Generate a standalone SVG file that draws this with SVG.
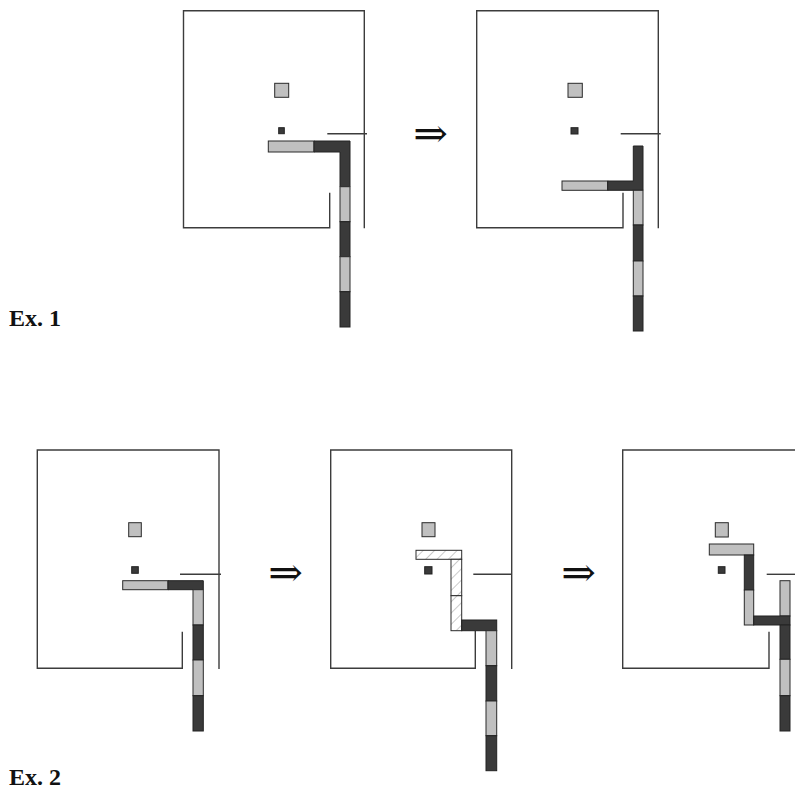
<svg xmlns="http://www.w3.org/2000/svg" width="795" height="792" viewBox="0 0 795 792">
<defs>
<style>
.frame{fill:none;stroke:#3c3c3c;stroke-width:1.4}
.g{fill:#c0c0c0;stroke:#2a2a2a;stroke-width:1}
.d{fill:#3a3a3a;stroke:#222;stroke-width:1}
.h{fill:url(#hatch);stroke:#2a2a2a;stroke-width:1}
.arr{font-family:"DejaVu Serif","DejaVu Sans",serif;font-size:36px;fill:#111}
.lbl{font-family:"Liberation Serif",serif;font-weight:bold;font-size:24px;fill:#111}
</style>
<pattern id="hatch" patternUnits="userSpaceOnUse" width="8" height="8" patternTransform="rotate(45)">
<rect width="8" height="8" fill="#fff"/>
<line x1="0" y1="0" x2="0" y2="8" stroke="#bdbdbd" stroke-width="1.6"/>
</pattern>
</defs>
<rect width="795" height="792" fill="#fff"/>

<g id="ex1-a">
<path class="frame" d="M329.7,192.7 V227.7 H183.5 V10.7 H364.3 V228.3"/>
<line class="frame" x1="327.3" y1="133.7" x2="367" y2="133.7"/>
<rect class="g" x="274.7" y="83.3" width="14" height="14"/>
<rect class="d" x="278.7" y="127.7" width="5.6" height="6"/>
<rect class="g" x="268.3" y="141" width="45.7" height="11"/>
<path class="d" d="M314,141 H350 V186.7 H340 V152 H314 Z"/>
<rect class="g" x="340" y="186.7" width="10" height="35"/>
<rect class="d" x="340" y="221.7" width="10" height="35"/>
<rect class="g" x="340" y="256.7" width="10" height="35"/>
<rect class="d" x="340" y="291.7" width="10" height="35.3"/>
</g>

<g id="ex1-b">
<path class="frame" d="M623,192.7 V227.7 H476.7 V10.7 H658.3 V228.3"/>
<line class="frame" x1="620.7" y1="133.7" x2="660.7" y2="133.7"/>
<rect class="g" x="568" y="83.3" width="14.3" height="14"/>
<rect class="d" x="571" y="127.7" width="7" height="6.3"/>
<rect class="g" x="562" y="181" width="45.7" height="9.3"/>
<path class="d" d="M633.3,146 H643 V190.3 H607.7 V181 H633.3 Z"/>
<rect class="g" x="633.3" y="190.3" width="9.7" height="34.7"/>
<rect class="d" x="633.3" y="225" width="9.7" height="36"/>
<rect class="g" x="633.3" y="261" width="9.7" height="35"/>
<rect class="d" x="633.3" y="296" width="9.7" height="35"/>
</g>

<g id="ex2-a">
<path class="frame" d="M182.3,631.7 V668.3 H37.3 V450 H219 V669"/>
<line class="frame" x1="180" y1="574.3" x2="221" y2="574.3"/>
<rect class="g" x="128.7" y="522.7" width="12.6" height="14"/>
<rect class="d" x="131.7" y="566.7" width="6.6" height="6.6"/>
<rect class="g" x="122.7" y="580.7" width="45.3" height="9"/>
<path class="d" d="M168,580.7 H203.3 V589.7 H168 Z"/>
<rect class="g" x="193" y="589.7" width="10.3" height="35.3"/>
<rect class="d" x="193" y="625" width="10.3" height="35"/>
<rect class="g" x="193" y="660" width="10.3" height="35.7"/>
<rect class="d" x="193" y="695.7" width="10.3" height="35.3"/>
</g>

<g id="ex2-b">
<path class="frame" d="M475.3,631 V668.3 H330.7 V450 H511.7 V669"/>
<line class="frame" x1="473.3" y1="574.3" x2="511.7" y2="574.3"/>
<rect class="g" x="422" y="522.7" width="13" height="14"/>
<rect class="d" x="424.7" y="566.7" width="7.3" height="7.3"/>
<rect class="h" x="416" y="550.3" width="45.7" height="9"/>
<rect class="h" x="451" y="559.3" width="10.7" height="36.4"/>
<rect class="h" x="451" y="595.7" width="10.7" height="35"/>
<rect class="d" x="461.7" y="620" width="35" height="10.7"/>
<rect class="g" x="486" y="630.7" width="10.7" height="35"/>
<rect class="d" x="486" y="665.7" width="10.7" height="35.3"/>
<rect class="g" x="486" y="701" width="10.7" height="34.7"/>
<rect class="d" x="486" y="735.7" width="10.7" height="35"/>
</g>

<g id="ex2-c">
<path class="frame" d="M769,631.7 V668.3 H622.7 V450 H796"/>
<line class="frame" x1="766.7" y1="574.3" x2="796" y2="574.3"/>
<rect class="g" x="715.3" y="522.7" width="13" height="14.3"/>
<rect class="d" x="718.3" y="566.7" width="6.7" height="6.6"/>
<rect class="g" x="709.3" y="544" width="44.4" height="11"/>
<rect class="d" x="744.3" y="555" width="9.4" height="35"/>
<rect class="g" x="744.3" y="590" width="9.4" height="35"/>
<rect class="g" x="780" y="580.7" width="10" height="35.3"/>
<rect class="d" x="753.7" y="616" width="36.3" height="9"/>
<rect class="d" x="780" y="625" width="10" height="34.3"/>
<rect class="g" x="780" y="659.3" width="10" height="36.4"/>
<rect class="d" x="780" y="695.7" width="10" height="35.3"/>
</g>

<g id="arrows">
<text class="arr" transform="translate(430.5,134) scale(1.15,1.1)" x="0" y="11.5" text-anchor="middle">⇒</text>
<text class="arr" transform="translate(285.5,573.7) scale(1.15,1.1)" x="0" y="11.5" text-anchor="middle">⇒</text>
<text class="arr" transform="translate(578.5,573.7) scale(1.15,1.1)" x="0" y="11.5" text-anchor="middle">⇒</text>
</g>

<g id="labels">
<text class="lbl" x="9" y="326">Ex. 1</text>
<text class="lbl" x="9" y="785">Ex. 2</text>
</g>
</svg>
